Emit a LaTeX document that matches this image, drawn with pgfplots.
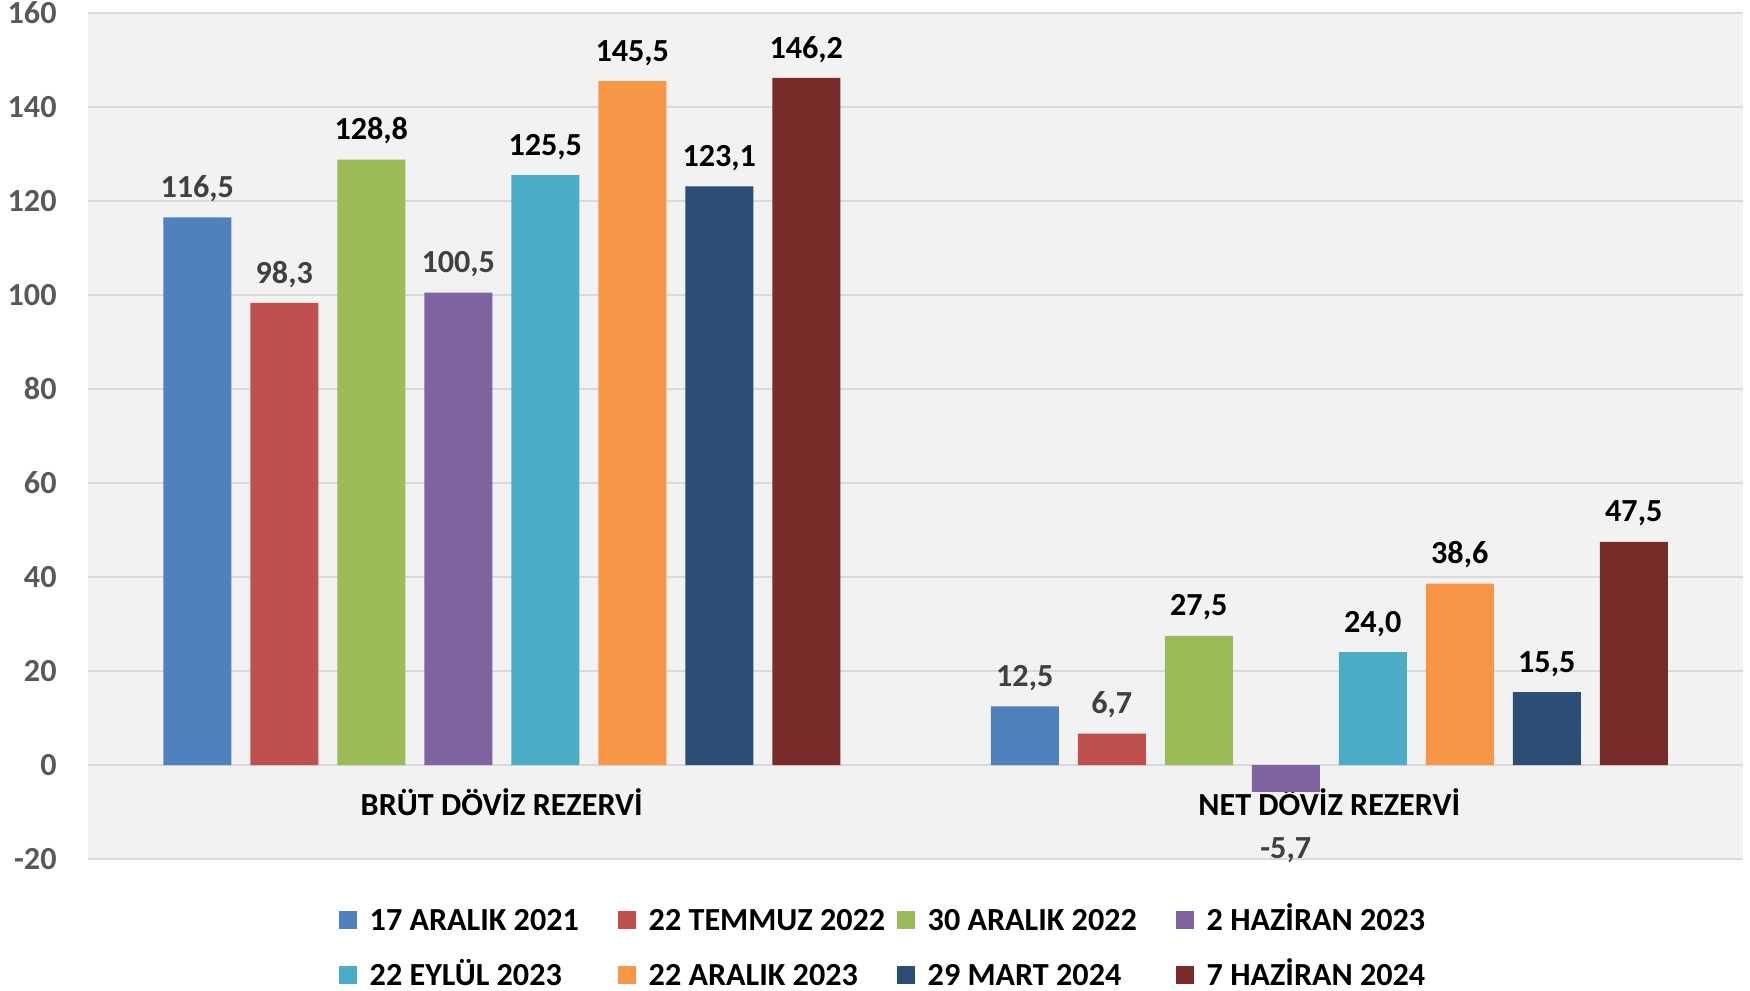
\documentclass[border=0pt]{standalone}
\usepackage{fontspec}
\setmainfont{Carlito}
\usepackage{pgfplots}
\pgfplotsset{compat=1.18}
\definecolor{c1}{HTML}{4F81BD}
\definecolor{c2}{HTML}{C0504D}
\definecolor{c3}{HTML}{9BBB59}
\definecolor{c4}{HTML}{8064A2}
\definecolor{c5}{HTML}{4BACC6}
\definecolor{c6}{HTML}{F79646}
\definecolor{c7}{HTML}{2C4D75}
\definecolor{c8}{HTML}{772C2A}
\definecolor{bg}{HTML}{F2F2F2}
\definecolor{gridc}{HTML}{D9D9D9}
\definecolor{tickc}{HTML}{595959}
\definecolor{lblg}{HTML}{404040}
\newcommand\lb[1]{\makebox[24.8mm][l]{#1}}
\begin{document}
\begin{tikzpicture}[font=\fontsize{9.15}{10.5}\selectfont\bfseries]
\begin{axis}[
  scale only axis, width=165.5mm, height=84.6mm,
  xmin=-0.5, xmax=1.5, ymin=-20, ymax=160,
  ytick={-20,0,...,160},
  xtick={0,1}, xticklabels={BRÜT DÖVİZ REZERVİ, NET DÖVİZ REZERVİ},
  xticklabel style={anchor=center, yshift=5.4mm, text=black, text height=2.1mm, text depth=0pt},
  yticklabel style={text=tickc, xshift=-1.9mm, /pgf/number format/assume math mode=true},
  ybar=1.9mm, bar width=6.8mm,
  axis line style={draw=none},
  major tick length=0pt,
  ymajorgrids, grid style={gridc, line width=0.5pt},
  axis background/.style={fill=bg},
  clip=false,
  visualization depends on={rawy \as \rawy},
  nodes near coords={\pgfmathprintnumber[fixed,fixed zerofill,precision=1,use comma,assume math mode=true]{\pgfplotspointmeta}},
  every node near coord/.append style={yshift={\rawy<0 ? -3.3mm : 0.3mm}},
  legend columns=4,
  legend cell align=left,
  legend image code/.code={\draw[#1,draw=none] (0mm,-0.9mm) rectangle (1.8mm,0.9mm);},
  legend style={at={(rel axis cs:0,0)}, anchor=north west, xshift=25mm, yshift=-5.0mm,
    draw=none, fill=none, inner sep=0pt, row sep=3.4mm,
    nodes={inner sep=0pt, text=black, text height=2.1mm, text depth=0pt},
    /tikz/every odd column/.append style={column sep=1.3mm}},
]
\addplot[fill=c1, draw=none, every node near coord/.append style={text=lblg}] coordinates {(0,116.5) (1,12.5)};
\addlegendentry{\lb{17 ARALIK 2021}}
\addplot[fill=c2, draw=none, every node near coord/.append style={text=lblg}] coordinates {(0,98.3) (1,6.7)};
\addlegendentry{\lb{22 TEMMUZ 2022}}
\addplot[fill=c3, draw=none, every node near coord/.append style={text=black}] coordinates {(0,128.8) (1,27.5)};
\addlegendentry{\lb{30 ARALIK 2022}}
\addplot[fill=c4, draw=none, every node near coord/.append style={text=lblg}] coordinates {(0,100.5) (1,-5.7)};
\addlegendentry{\lb{2 HAZİRAN 2023}}
\addplot[fill=c5, draw=none, every node near coord/.append style={text=black}] coordinates {(0,125.5) (1,24.0)};
\addlegendentry{\lb{22 EYLÜL 2023}}
\addplot[fill=c6, draw=none, every node near coord/.append style={text=black}] coordinates {(0,145.5) (1,38.6)};
\addlegendentry{\lb{22 ARALIK 2023}}
\addplot[fill=c7, draw=none, every node near coord/.append style={text=black}] coordinates {(0,123.1) (1,15.5)};
\addlegendentry{\lb{29 MART 2024}}
\addplot[fill=c8, draw=none, every node near coord/.append style={text=black}] coordinates {(0,146.2) (1,47.5)};
\addlegendentry{\lb{7 HAZİRAN 2024}}
\end{axis}
\pgfresetboundingbox
\path[use as bounding box] (-8.8mm,-13.1mm) rectangle (166.2mm,85.9mm);
\end{tikzpicture}
\end{document}
